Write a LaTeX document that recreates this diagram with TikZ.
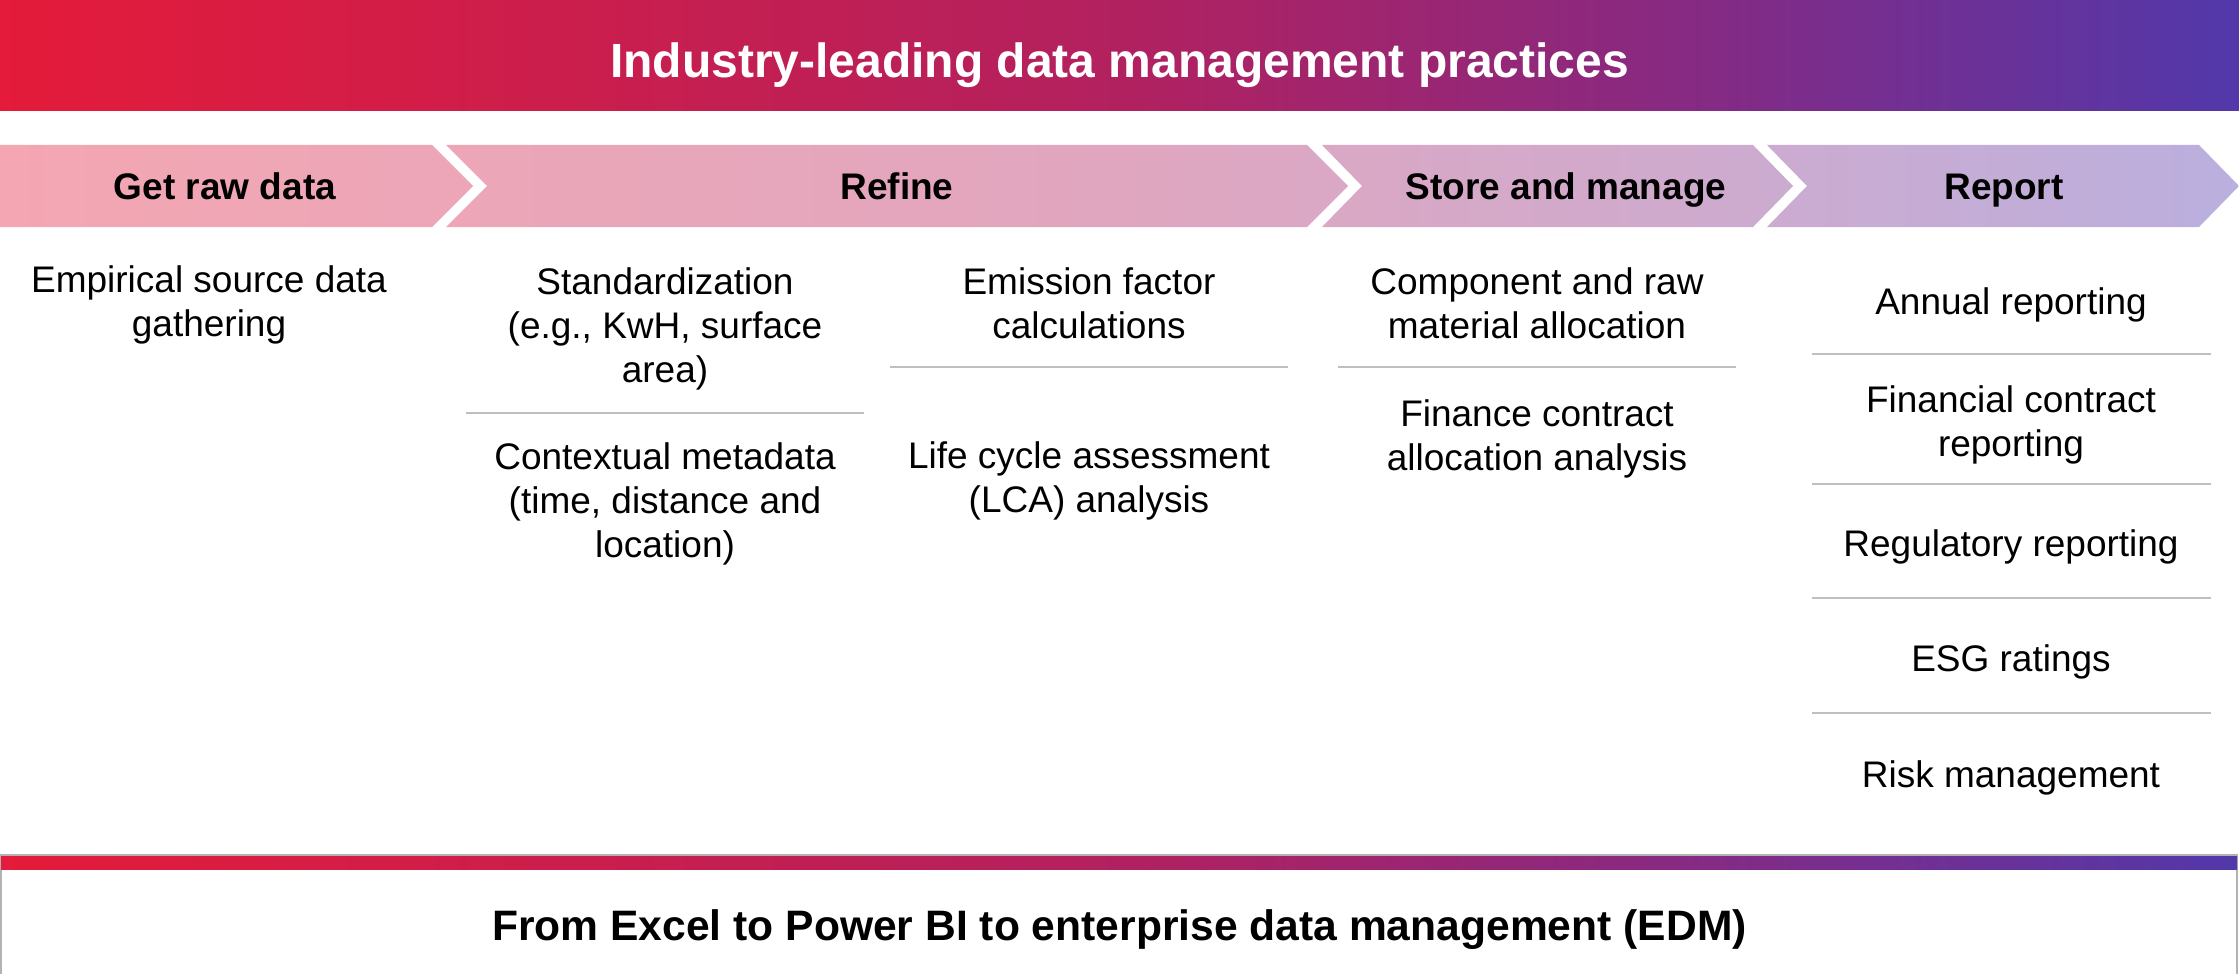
\documentclass[tikz,border=0pt]{standalone}
\usepackage{fontspec}
\setmainfont{Liberation Sans}
\definecolor{barA}{RGB}{228,27,58}
\definecolor{barB}{RGB}{178,33,95}
\definecolor{barC}{RGB}{135,42,130}
\definecolor{barD}{RGB}{82,56,170}
\definecolor{chevA}{RGB}{244,166,178}
\definecolor{chevB}{RGB}{224,166,191}
\definecolor{chevC}{RGB}{207,170,205}
\definecolor{chevD}{RGB}{186,175,222}
\definecolor{sepgray}{RGB}{191,191,191}
\definecolor{boxgray}{RGB}{178,178,178}
\pgfdeclarehorizontalshading{barshade}{100bp}{color(0bp)=(barA); color(25bp)=(barA); color(50bp)=(barB); color(62.5bp)=(barC); color(75bp)=(barD); color(100bp)=(barD)}
\pgfdeclarehorizontalshading{chevshade}{100bp}{color(0bp)=(chevA); color(25bp)=(chevA); color(50bp)=(chevB); color(62.5bp)=(chevC); color(75bp)=(chevD); color(100bp)=(chevD)}
\tikzstyle{stage}=[font=\bfseries\fontsize{18.5}{22}\selectfont, inner sep=0pt, anchor=base]
\tikzstyle{item}=[align=center, font=\fontsize{18.5}{22}\selectfont, inner sep=0pt]
\tikzstyle{sepline}=[draw, line width=1.4pt, sepgray]
\tikzstyle{boxline}=[draw, line width=1pt, boxgray]

\begin{document}
\begin{tikzpicture}[x=0.5pt, y=-0.5pt]
    \useasboundingbox (0,0) rectangle (2239,974);

    % banner on top
    \path[shading=barshade] (0,0) rectangle (2239,111);
    \node[font=\bfseries\fontsize{24}{28}\selectfont, text=white] (title) at (1119.5,65) {Industry-leading data management practices};

    % chevrons
    \path[shading=chevshade]
        (0,145) -- (432,145) -- (473,186) -- (432,227) -- (0,227) -- cycle
        (446,145) -- (1307,145) -- (1348,186) -- (1307,227) -- (446,227) -- (487,186) -- cycle
        (1322,145) -- (1753,145) -- (1793,186) -- (1753,227) -- (1322,227) -- (1362,186) -- cycle
        (1767,145) -- (2199,145) -- (2239,186) -- (2199,227) -- (1767,227) -- (1807,186) -- cycle;
    \foreach \pos/\name/\txt in {
                            {225/getraw/Get raw data},
                            {897/refine/Refine},
                            {1566/store/Store and manage},
                            {2004/report/Report}}
        \node[stage] (\name) at (\pos,199) {\txt};

    % column texts
    \foreach \pos/\name/\txt in {
                            {(209,305)/raw/{Empirical source data\\gathering}},
                            {(665,329)/std/{Standardization\\(e.g., KwH, surface\\area)}},
                            {(665,504)/ctx/{Contextual metadata\\(time, distance and\\location)}},
                            {(1089,303)/emis/{Emission factor\\calculations}},
                            {(1089,481)/lca/{Life cycle assessment\\(LCA) analysis}},
                            {(1537,303)/comp/{Component and raw\\material allocation}},
                            {(1537,439)/fin/{Finance contract\\allocation analysis}},
                            {(2011,305)/annual/{Annual reporting}},
                            {(2011,425)/fincon/{Financial contract\\reporting}},
                            {(2011,547)/regul/{Regulatory reporting}},
                            {(2011,662)/esg/{ESG ratings}},
                            {(2011,778)/risk/{Risk management}}}
        \node[item] (\name) at \pos {\txt};

    % separators
    \path[sepline] (466,413) -- (864,413);
    \path[sepline] (890,367) -- (1288,367);
    \path[sepline] (1338,367) -- (1736,367);
    \foreach \y in {354,484,598,713}
        \path[sepline] (1812,\y) -- (2211,\y);

    % bottom box
    \path[boxline] (1,974) -- (1,855) -- (2237,855) -- (2237,974);
    \path[shading=barshade] (1,856) rectangle (2237,869);
    \node[font=\bfseries\fontsize{21.3}{25}\selectfont] (tools) at (1119.5,930) {From Excel to Power BI to enterprise data management (EDM)};

\end{tikzpicture}
\end{document}
